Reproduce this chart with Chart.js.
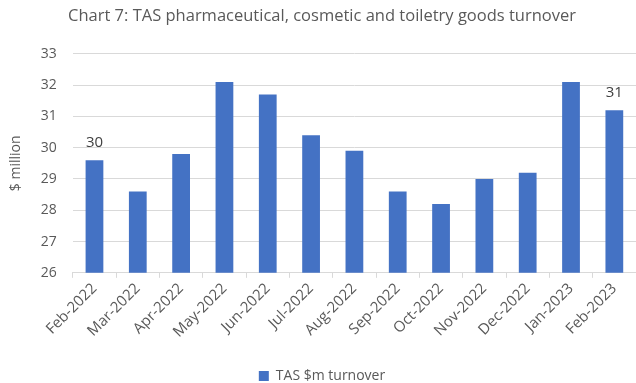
<!DOCTYPE html>
<html>
<head>
<meta charset="utf-8">
<script src="https://cdn.jsdelivr.net/npm/chart.js@4"></script>
<style>
  html, body { margin: 0; padding: 0; background: #fff; }
  #wrap { width: 636px; height: 383px; }
</style>
</head>
<body>
<div id="wrap"><canvas id="myChart"></canvas></div>
<script>
const months = ['Feb-2022', 'Mar-2022', 'Apr-2022', 'May-2022', 'Jun-2022', 'Jul-2022', 'Aug-2022',
  'Sep-2022', 'Oct-2022', 'Nov-2022', 'Dec-2022', 'Jan-2023', 'Feb-2023'];
const turnover = [29.6, 28.6, 29.8, 32.1, 31.7, 30.4, 29.9, 28.6, 28.2, 29.0, 29.2, 32.1, 31.2];
// only first and last bars carry a value label in the original
const labelledIdx = [0, 12];
const yTicks = [26, 27, 28, 29, 30, 31, 32, 33];

const fontFamily = '"Open Sans", sans-serif';
const textColor = '#595959';

// small value labels above the first and last bar
const valueLabels = {
  id: 'valueLabels',
  afterDatasetsDraw(chart) {
    const ctx = chart.ctx;
    const meta = chart.getDatasetMeta(0);
    ctx.save();
    ctx.font = '15px ' + fontFamily;
    ctx.fillStyle = '#404040';
    ctx.textAlign = 'center';
    ctx.textBaseline = 'middle';
    labelledIdx.forEach(i => {
      const bar = meta.data[i];
      ctx.fillText(Math.round(turnover[i]).toString(), bar.x, bar.y - 17);
    });
    ctx.restore();
  }
};

// push the legend a bit lower, Excel keeps it close to the bottom edge
const legendNudge = {
  id: 'legendNudge',
  afterLayout(chart) {
    chart.legend.top += 10;
    chart.legend.bottom += 10;
  }
};

new Chart(document.getElementById('myChart'), {
  type: 'bar',
  data: {
    labels: months,
    datasets: [{
      label: 'TAS $m turnover',
      data: turnover,
      backgroundColor: '#4472C4',
      borderWidth: 0,
      barPercentage: 0.41,
      categoryPercentage: 1
    }]
  },
  options: {
    responsive: true,
    maintainAspectRatio: false,
    animation: false,
    layout: { padding: { left: 8, right: 0, top: 0, bottom: 0 } },
    scales: {
      y: {
        min: 26,
        max: 33,
        afterBuildTicks: axis => { axis.ticks = yTicks.map(v => ({ value: v })); },
        ticks: { color: textColor, font: { family: fontFamily, size: 14 }, padding: 16 },
        grid: { color: '#d9d9d9', drawTicks: false },
        border: { display: false },
        title: {
          display: true,
          text: '$ million',
          color: textColor,
          font: { family: fontFamily, size: 14 },
          padding: { top: 0, bottom: 0 }
        }
      },
      x: {
        offset: true,
        ticks: {
          color: textColor,
          font: { family: fontFamily, size: 15 },
          minRotation: 45,
          maxRotation: 45,
          autoSkip: false,
          padding: 2
        },
        grid: {
          offset: true,
          drawOnChartArea: false,
          drawTicks: true,
          tickLength: 5,
          color: '#d9d9d9'
        },
        border: { display: true, color: '#d9d9d9' }
      }
    },
    plugins: {
      title: {
        display: true,
        text: 'Chart 7: TAS pharmaceutical, cosmetic and toiletry goods turnover',
        color: textColor,
        font: { family: fontFamily, size: 16.5, weight: 'normal' },
        padding: { top: 6, bottom: 28 }
      },
      legend: {
        display: true,
        position: 'bottom',
        labels: {
          color: textColor,
          font: { family: fontFamily, size: 14 },
          boxWidth: 10,
          boxHeight: 10,
          padding: 16
        }
      },
      tooltip: { enabled: false }
    }
  },
  plugins: [valueLabels, legendNudge]
});
</script>
</body>
</html>
